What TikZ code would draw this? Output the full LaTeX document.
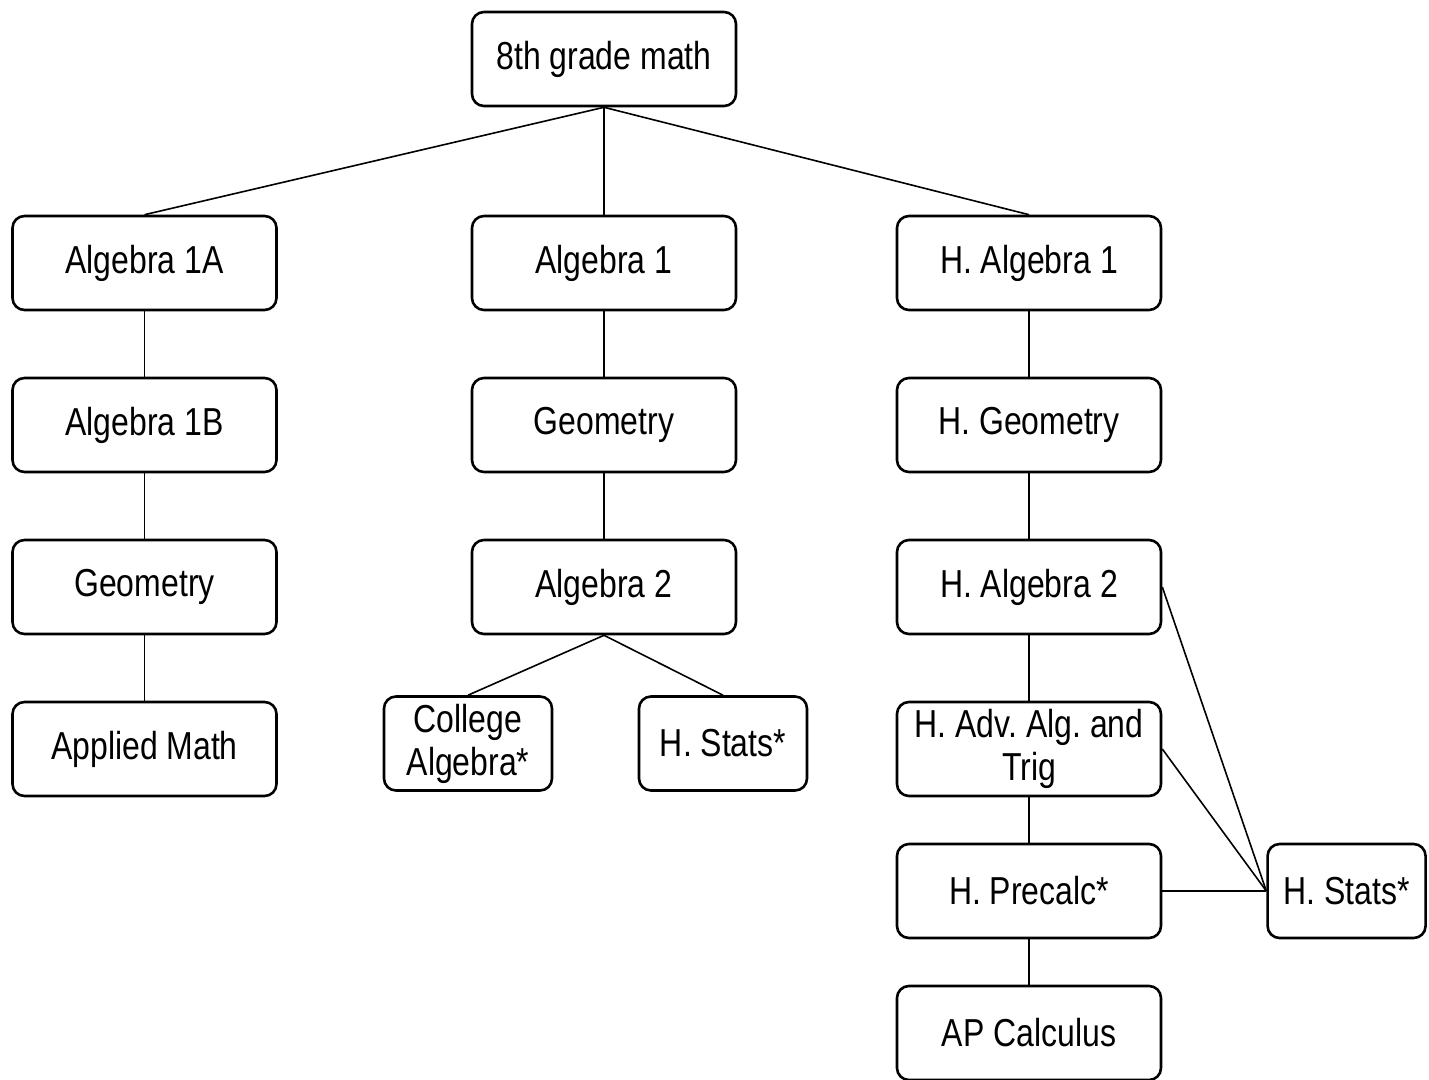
\documentclass[tikz,border=0pt]{standalone}
\usepackage{fontspec}
\setmainfont{Liberation Sans}[FakeStretch=0.82]
\usetikzlibrary{positioning}

\begin{document}
\begin{tikzpicture}[
    x=0.5pt, y=-0.5pt,
    node distance=32.7pt,
    course/.style={rectangle, draw, rounded corners=6pt, line width=1.3pt, minimum width=132pt, minimum height=47pt, align=center, inner sep=1pt, font=\fontsize{19.5}{21.5}\selectfont\frenchspacing},
    elective/.style={course, minimum width=84pt},
    link/.style={line width=0.8pt}
]
\useasboundingbox (0,0) rectangle (1429,1080);

\node[course] (eighth) at (604,59) {8th grade math};

% left track
\node[course] (alga) at (144.5,263) {Algebra 1A};
\node[course, below=of alga] (algb) {Algebra 1B};
\node[course, below=of algb] (geol) {Geometry};
\node[course, below=of geol] (applied) {Applied Math};

% middle track
\node[course] (alg1) at (604,263) {Algebra 1};
\node[course, below=of alg1] (geom) {Geometry};
\node[course, below=of geom] (alg2) {Algebra 2};
\node[elective] (college) at (468,743.5) {College\\Algebra*};
\node[elective] (statsm) at (723,743.5) {H. Stats*};

% honors track
\node[course] (halg1) at (1029,263) {H. Algebra 1};
\node[course, below=of halg1] (hgeo) {H. Geometry};
\node[course, below=of hgeo] (halg2) {H. Algebra 2};
\node[course, below=of halg2] (hadv) {H. Adv. Alg. and\\Trig};
\node[course, below=22.7pt of hadv] (hpre) {H. Precalc*};
\node[course, below=22.7pt of hpre] (apcalc) {AP Calculus};
\node[elective, minimum width=79pt, right=52pt of hpre] (statsr) {H. Stats*};

\draw[link] (eighth.south) -- (alga.north);
\draw[link] (eighth.south) -- (alg1.north);
\draw[link] (eighth.south) -- (halg1.north);

\draw[link] (alga) -- (algb);
\draw[link] (algb) -- (geol);
\draw[link] (geol) -- (applied);

\draw[link] (alg1) -- (geom);
\draw[link] (geom) -- (alg2);
\draw[link] (alg2.south) -- (college.north);
\draw[link] (alg2.south) -- (statsm.north);

\draw[link] (halg1) -- (hgeo);
\draw[link] (hgeo) -- (halg2);
\draw[link] (halg2) -- (hadv);
\draw[link] (hadv) -- (hpre);
\draw[link] (hpre) -- (apcalc);
\draw[link] (halg2.east) -- (statsr.west);
\draw[link] (hadv.east) -- (statsr.west);
\draw[link] (hpre.east) -- (statsr.west);

\end{tikzpicture}
\end{document}
